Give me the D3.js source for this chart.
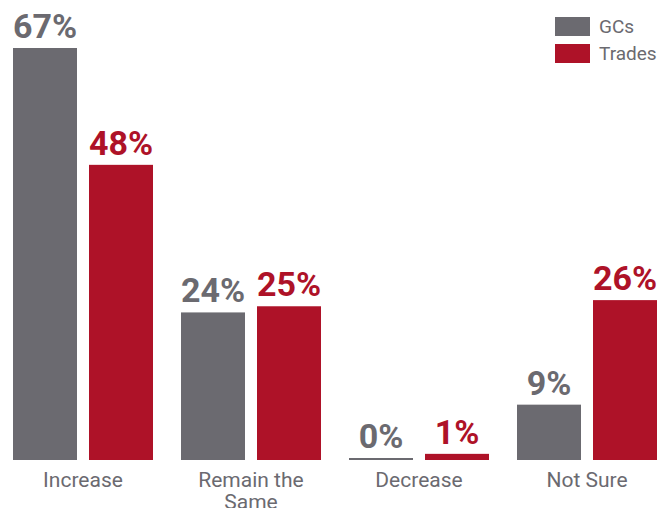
<!DOCTYPE html>
<html>
<head>
<meta charset="utf-8">
<script src="https://cdn.jsdelivr.net/npm/d3@7"></script>
<style>
  html, body { margin: 0; padding: 0; background: #fff; }
  svg { display: block; }
</style>
</head>
<body>
<div id="chart"></div>
<script>
// Survey outlook: share of respondents per answer, GCs vs. Trades
const categories = ["Increase", "Remain the Same", "Decrease", "Not Sure"];
const categoryLines = [["Increase"], ["Remain the", "Same"], ["Decrease"], ["Not Sure"]];
const seriesNames = ["GCs", "Trades"];
const gcValues = [67, 24, 0, 9];
const tradeValues = [48, 25, 1, 26];
const seriesColors = ["#6b6a70", "#ae1228"];

const W = 666, H = 508;
const baseline = 460;
const bw = 64;

const svg = d3.select("#chart").append("svg")
  .attr("width", W).attr("height", H);

// one 168px slot per category, starting at x = 13
const x0 = d3.scaleBand()
  .domain(categories)
  .range([13, 13 + 168 * 4]);

// GC bar at the slot's left edge, Trades bar 76px to the right
const x1 = d3.scalePoint()
  .domain(seriesNames)
  .range([0, 76]);

const y = d3.scaleLinear().domain([0, 67]).range([baseline, 48]);

const rows = categories.map((c, i) => ({
  cat: c,
  values: [
    { s: "GCs", v: gcValues[i], color: seriesColors[0] },
    { s: "Trades", v: tradeValues[i], color: seriesColors[1] }
  ]
}));

const g = svg.selectAll("g.group").data(rows).join("g")
  .attr("class", "group")
  .attr("transform", d => `translate(${x0(d.cat)},0)`);

// a zero value still shows as a thin rule on the baseline
const barTop = d => d.v === 0 ? baseline - 2 : y(d.v);

g.selectAll("rect").data(d => d.values).join("rect")
  .attr("x", d => x1(d.s))
  .attr("width", bw)
  .attr("y", barTop)
  .attr("height", d => baseline - barTop(d))
  .attr("fill", d => d.color);

g.selectAll("text.val").data(d => d.values).join("text")
  .attr("class", "val")
  .attr("x", d => x1(d.s) + bw / 2)
  .attr("y", d => barTop(d) - 10)
  .attr("text-anchor", "middle")
  .attr("fill", d => d.color)
  .style("font-family", "Roboto, 'Liberation Sans', sans-serif")
  .style("font-weight", "bold")
  .style("font-size", "34px")
  .text(d => d.v + "%");

// category labels
g.each(function(d, i) {
  const t = d3.select(this).append("text")
    .attr("x", 70)
    .attr("y", 487)
    .attr("text-anchor", "middle")
    .attr("fill", "#6b6a70")
    .style("font-family", "Roboto, 'Liberation Sans', sans-serif")
    .style("font-size", "21px");
  categoryLines[i].forEach((line, k) => {
    t.append("tspan").attr("x", 70).attr("dy", k === 0 ? 0 : 22).text(line);
  });
});

// legend
const legend = svg.append("g").attr("transform", "translate(555,17)");
const li = legend.selectAll("g").data(seriesNames).join("g")
  .attr("transform", (d, i) => `translate(0,${i * 27})`);
li.append("rect").attr("width", 35).attr("height", 19)
  .attr("fill", (d, i) => seriesColors[i]);
li.append("text").attr("x", 44).attr("y", 16)
  .attr("fill", "#6b6a70")
  .style("font-family", "Roboto, 'Liberation Sans', sans-serif")
  .style("font-size", "19px")
  .text(d => d);
</script>
</body>
</html>
